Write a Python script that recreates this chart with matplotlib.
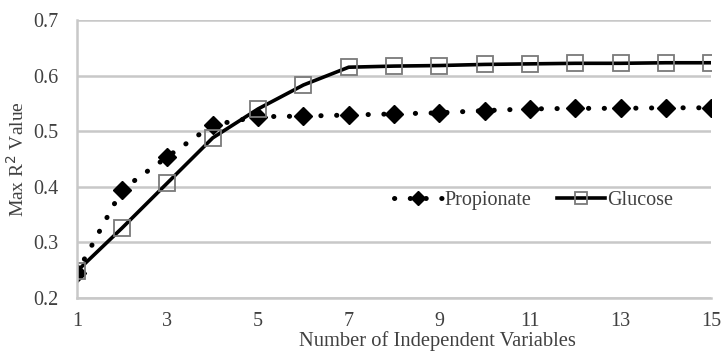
import numpy as np
import matplotlib.pyplot as plt

plt.rcParams['font.family'] = ['Liberation Serif', 'DejaVu Serif']

# number of independent variables
n_vars = np.arange(1, 16)
# max R^2 values
propionate = [0.245, 0.395, 0.454, 0.511, 0.526, 0.527, 0.529, 0.531,
              0.533, 0.537, 0.540, 0.541, 0.541, 0.542, 0.542]
glucose = [0.248, 0.326, 0.407, 0.488, 0.540, 0.583, 0.615, 0.617,
           0.618, 0.620, 0.621, 0.622, 0.622, 0.623, 0.623]

fig = plt.figure(figsize=(7.25, 3.56), dpi=100)
ax = fig.add_axes([0.106, 0.163, 0.875, 0.781])

ax.plot(n_vars, propionate, color='black', lw=3.6,
        linestyle=(0, (0.05, 3.1)), dash_capstyle='round',
        marker='D', ms=9.5, mfc='black', mec='black', label='Propionate')
ax.plot(n_vars, glucose, color='black', lw=2.6,
        marker='s', ms=11, mfc='none', mec='#7a7a7a', mew=1.3, label='Glucose')

ax.set_xlim(1, 15)
ax.set_ylim(0.2, 0.7)
ax.set_xticks(np.arange(1, 16, 2))
ax.set_yticks(np.arange(0.2, 0.71, 0.1))
ax.set_yticklabels(['0.2', '0.3', '0.4', '0.5', '0.6', '0.7'])
ax.grid(axis='y', color='#c8c8c8', lw=1.8)
ax.set_axisbelow(True)
for side in ['top', 'right']:
    ax.spines[side].set_visible(False)
for side in ['left', 'bottom']:
    ax.spines[side].set_color('#c8c8c8')
    ax.spines[side].set_linewidth(1.8)
ax.tick_params(axis='y', length=0, labelsize=14.5, colors='#404040', pad=13)
ax.tick_params(axis='x', length=0, labelsize=14.5, colors='#404040', pad=10)

ax.set_xlabel('Number of Independent Variables', fontsize=14.8, color='#404040')
ax.xaxis.set_label_coords(0.568, -0.12)
ax.set_ylabel('Max R$^2$ Value', fontsize=14, color='#404040', labelpad=4)

ax.legend(loc='center', bbox_to_anchor=(0.72, 0.349), ncol=2, frameon=False,
          fontsize=14.5, handlelength=2.4, handletextpad=0.1, columnspacing=1.3,
          markerscale=0.75, labelcolor='#404040')

fig.savefig('out.png', dpi=100)
